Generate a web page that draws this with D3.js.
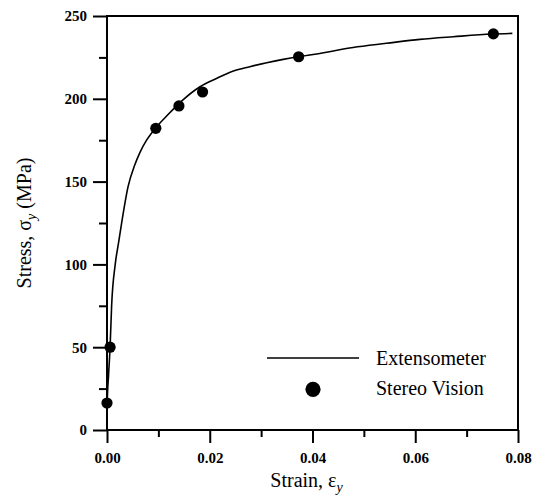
<!DOCTYPE html>
<html>
<head>
<meta charset="utf-8">
<script src="https://cdn.jsdelivr.net/npm/d3@7"></script>
<style>
  body { margin: 0; background: #fff; }
  svg { display: block; }
  text { font-family: "Liberation Serif", "Times New Roman", serif; fill: #000; }
  .tick text { font-weight: bold; font-size: 15px; }
</style>
</head>
<body>
<div class="content"></div>
<script>
// extensometer curve
var curveStrain = [0, 0.00005, 0.0003, 0.0006, 0.0009, 0.0016, 0.0023, 0.0030, 0.0041, 0.0054,
                   0.0064, 0.0077, 0.0095, 0.0116, 0.0149, 0.0181, 0.0213, 0.0246, 0.0278, 0.0311,
                   0.0343, 0.0372, 0.0408, 0.0479, 0.0544, 0.0609, 0.0674, 0.0750, 0.0789];
var curveStress = [0, 17, 33, 50, 75, 100, 114, 128, 147, 160,
                   167.5, 175, 182.5, 189.6, 199.7, 207.3, 212.3, 216.8, 219.4, 221.8,
                   223.8, 225.4, 227.1, 231, 233.5, 235.9, 237.5, 239.1, 239.5];

// stereo vision points
var stereoStrain = [0, 0.0006, 0.0095, 0.0140, 0.0186, 0.0373, 0.0752];
var stereoStress = [16.3, 50, 182.2, 195.7, 204.1, 225.4, 239.2];

// ticks
var xMajor = [0, 0.02, 0.04, 0.06, 0.08];
var xMinor = [0.01, 0.03, 0.05, 0.07];
var yMajor = [0, 50, 100, 150, 200, 250];
var yMinor = [25, 75, 125, 175, 225];

var legendLabels = ["Extensometer", "Stereo Vision"];

var serif = "'Liberation Serif', 'Times New Roman', serif";

// set the dimensions and margins of the graph
var margin = {top: 16, right: 21, bottom: 69, left: 107},
    width = 539 - margin.left - margin.right,
    height = 499 - margin.top - margin.bottom;

var svg = d3.select(".content")
    .append("svg")
    .attr("width", width + margin.left + margin.right)
    .attr("height", height + margin.top + margin.bottom)
    .append("g")
    .attr("transform", "translate(" + margin.left + "," + margin.top + ")");

var x = d3.scaleLinear().domain([0, 0.08]).range([0, width]);
var y = d3.scaleLinear().domain([0, 250]).range([height, 0]);

// minor ticks
svg.append("g")
    .attr("transform", "translate(0," + height + ")")
    .call(d3.axisBottom(x).tickValues(xMinor).tickSize(7).tickFormat(""))
    .call(function(g) { g.select(".domain").remove(); });
svg.append("g")
    .call(d3.axisLeft(y).tickValues(yMinor).tickSize(8).tickFormat(""))
    .call(function(g) { g.select(".domain").remove(); });

// major ticks + labels
svg.append("g")
    .attr("transform", "translate(0," + height + ")")
    .attr("font-family", serif)
    .call(d3.axisBottom(x).tickValues(xMajor).tickSize(13).tickPadding(9).tickFormat(d3.format(".2f")))
    .attr("font-family", serif)
    .call(function(g) { g.select(".domain").remove(); });
svg.append("g")
    .call(d3.axisLeft(y).tickValues(yMajor).tickSize(14).tickPadding(6).tickFormat(d3.format("d")))
    .attr("font-family", serif)
    .call(function(g) { g.select(".domain").remove(); });

svg.selectAll(".tick line").attr("stroke", "#000").attr("stroke-width", 2);

// frame
svg.append("rect")
    .attr("width", width)
    .attr("height", height)
    .attr("fill", "none")
    .attr("stroke", "#000")
    .attr("stroke-width", 2);

// the extensometer line
var curveData = curveStrain.map(function(d, i) { return {x: d, y: curveStress[i]}; });
svg.append("path")
    .datum(curveData)
    .attr("fill", "none")
    .attr("stroke", "#000")
    .attr("stroke-width", 1.6)
    .attr("d", d3.line()
        .curve(d3.curveMonotoneX)
        .x(function(d) { return x(d.x); })
        .y(function(d) { return y(d.y); }));

// stereo vision dots
svg.selectAll(".dot")
    .data(stereoStrain)
    .enter()
    .append("circle")
    .attr("class", "dot")
    .attr("cx", function(d) { return x(d); })
    .attr("cy", function(d, i) { return y(stereoStress[i]); })
    .attr("r", 5.6)
    .attr("fill", "#000");

// legend
var legend = svg.append("g").attr("transform", "translate(160,342)");
legend.append("line")
    .attr("x1", 0).attr("x2", 92)
    .attr("y1", 0).attr("y2", 0)
    .attr("stroke", "#000")
    .attr("stroke-width", 1.6);
legend.append("circle")
    .attr("cx", 46).attr("cy", 31.3).attr("r", 7.6)
    .attr("fill", "#000");
legend.selectAll(".lab")
    .data(legendLabels)
    .enter()
    .append("text")
    .attr("class", "lab")
    .attr("x", 109)
    .attr("y", function(d, i) { return 7 + i * 30; })
    .style("font-size", "20px")
    .text(function(d) { return d; });

// axis titles
var xt = svg.append("text")
    .attr("x", width / 2 - 6)
    .attr("y", height + 57)
    .attr("text-anchor", "middle")
    .style("font-size", "20px");
xt.append("tspan").text("Strain, \u03b5");
xt.append("tspan").attr("dy", 5).style("font-size", "14px").style("font-style", "italic").text("y");

var yt = svg.append("text")
    .attr("transform", "translate(" + (-76) + "," + (height / 2) + ") rotate(-90)")
    .attr("text-anchor", "middle")
    .style("font-size", "20px");
yt.append("tspan").text("Stress, \u03c3");
yt.append("tspan").attr("dy", 5).style("font-size", "14px").style("font-style", "italic").text("y");
yt.append("tspan").attr("dy", -5).text(" (MPa)");
</script>
</body>
</html>
